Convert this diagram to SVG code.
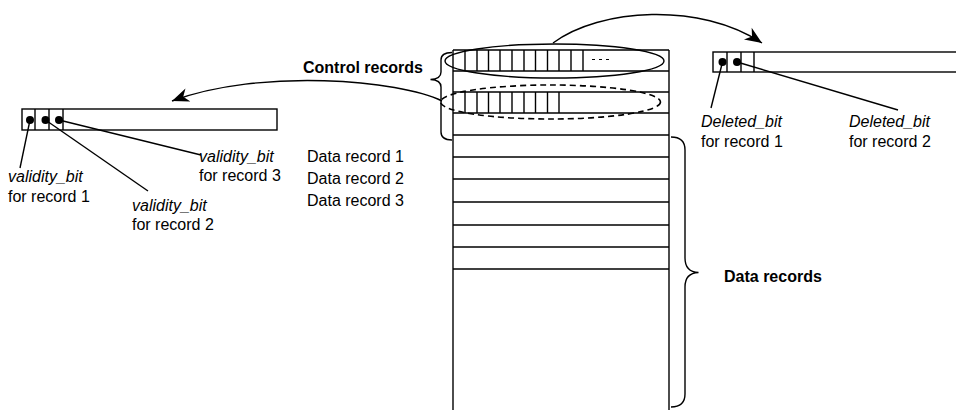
<svg xmlns="http://www.w3.org/2000/svg" width="956" height="410" viewBox="0 0 956 410">
  <defs>
    <marker id="arrowhead" markerUnits="userSpaceOnUse" markerWidth="22" markerHeight="18" viewBox="-19 -9 22 18" refX="0" refY="0" orient="auto">
      <path d="M0,0 L-17,-7 L-12,0 L-17,7 Z" fill="#000"/>
    </marker>
    <style>
      .ln { stroke: #000; stroke-width: 1.4; fill: none; }
      .box { stroke: #000; stroke-width: 1.4; fill: #fff; }
      .dash { stroke: #000; stroke-width: 1.6; fill: none; stroke-dasharray: 6 4; }
      .dot { fill: #000; }
      .lbl { font-family: "Liberation Sans", Arial, sans-serif; font-size: 16px; fill: #000; }
      .it { font-style: italic; }
      .bold { font-weight: bold; }
    </style>
  </defs>

  <rect width="956" height="410" fill="#fff"/>

  <!-- record table: control records on top, data records below -->
  <g id="record-table">
    <line class="ln" x1="453" y1="50" x2="669" y2="50"/>
    <line class="ln" x1="453" y1="50" x2="453" y2="412"/>
    <line class="ln" x1="669" y1="50" x2="669" y2="412"/>
    <line class="ln" x1="453" y1="71" x2="669" y2="71"/>
    <line class="ln" x1="453" y1="92" x2="669" y2="92"/>
    <line class="ln" x1="453" y1="113" x2="669" y2="113"/>
    <line class="ln" x1="453" y1="135" x2="669" y2="135"/>
    <line class="ln" x1="453" y1="157" x2="669" y2="157"/>
    <line class="ln" x1="453" y1="179" x2="669" y2="179"/>
    <line class="ln" x1="453" y1="202" x2="669" y2="202"/>
    <line class="ln" x1="453" y1="225" x2="669" y2="225"/>
    <line class="ln" x1="453" y1="247" x2="669" y2="247"/>
    <line class="ln" x1="453" y1="269" x2="669" y2="269"/>
    <!-- bit cells of the first control record -->
    <path class="ln" d="M465,50V71 M477,50V71 M488.5,50V71 M500,50V71 M512,50V71 M524,50V71 M535.5,50V71 M547.5,50V71 M559,50V71 M571,50V71 M583,50V71"/>
    <line x1="592" y1="59.5" x2="609" y2="59.5" stroke="#000" stroke-width="1" stroke-dasharray="3 4"/>
    <!-- bit cells of the second control record -->
    <path class="ln" d="M465,92V113 M477,92V113 M488.5,92V113 M500,92V113 M512,92V113 M524,92V113 M535.5,92V113 M547.5,92V113 M559,92V113"/>
  </g>

  <g id="control-ellipse-1">
    <ellipse class="ln" cx="554.5" cy="61" rx="109.5" ry="17"/>
  </g>
  <g id="control-ellipse-2">
    <ellipse class="dash" cx="550.5" cy="102" rx="110" ry="17"/>
  </g>

  <g id="control-brace">
    <path class="ln" d="M452,52.5 Q441,52.5 441,60 L441,72 Q441,79 430.5,79.5 Q441,80 441,87 L441,132 Q441,140 452,140"/>
    <text class="lbl bold" x="303" y="73">Control records</text>
  </g>

  <g id="data-brace">
    <path class="ln" d="M671,137 Q685,137 685,150 L685,258 Q685,272 698.5,272.5 Q685,273 685,287 L685,394 Q685,407 671,407"/>
    <text class="lbl bold" x="724" y="282">Data records</text>
  </g>

  <g id="data-record-labels">
    <text class="lbl" x="307" y="162">Data record 1</text>
    <text class="lbl" x="307" y="184">Data record 2</text>
    <text class="lbl" x="307" y="206">Data record 3</text>
  </g>

  <!-- validity bits record (left) -->
  <g id="validity-record">
    <rect class="box" x="22" y="109" width="255" height="21"/>
    <path class="ln" d="M35,109V130 M49,109V130 M63,109V130"/>
    <circle class="dot" cx="30" cy="120" r="4"/>
    <circle class="dot" cx="45.5" cy="120" r="4"/>
    <circle class="dot" cx="59" cy="120" r="4"/>
    <text class="lbl it" x="8" y="182">validity_bit</text>
    <text class="lbl" x="8" y="202">for record 1</text>
    <text class="lbl it" x="132" y="211">validity_bit</text>
    <text class="lbl" x="132" y="230">for record 2</text>
    <text class="lbl it" x="199" y="162">validity_bit</text>
    <text class="lbl" x="199" y="181">for record 3</text>
  </g>

  <!-- deleted bits record (right) -->
  <g id="deleted-record">
    <rect class="box" x="713" y="52" width="260" height="20"/>
    <path class="ln" d="M727,52V72 M741,52V72 M754,52V72"/>
    <circle class="dot" cx="722.5" cy="62" r="4"/>
    <circle class="dot" cx="737" cy="62" r="4"/>
    <text class="lbl it" x="701" y="127">Deleted_bit</text>
    <text class="lbl" x="701" y="147">for record 1</text>
    <text class="lbl it" x="849" y="127">Deleted_bit</text>
    <text class="lbl" x="849" y="147">for record 2</text>
  </g>

  <g id="connectors">
    <line class="ln" x1="30" y1="120" x2="20" y2="168"/>
    <line class="ln" x1="45.5" y1="120" x2="148" y2="191"/>
    <line class="ln" x1="59" y1="120" x2="201" y2="155"/>
    <line class="ln" x1="722.5" y1="62" x2="711" y2="108"/>
    <line class="ln" x1="737" y1="62" x2="898" y2="110"/>
    <path class="ln" d="M553,43 C600,8 700,2 762,43" marker-end="url(#arrowhead)"/>
    <path class="ln" d="M442,101 C400,80 260,68 172,101" marker-end="url(#arrowhead)"/>
  </g>
</svg>
